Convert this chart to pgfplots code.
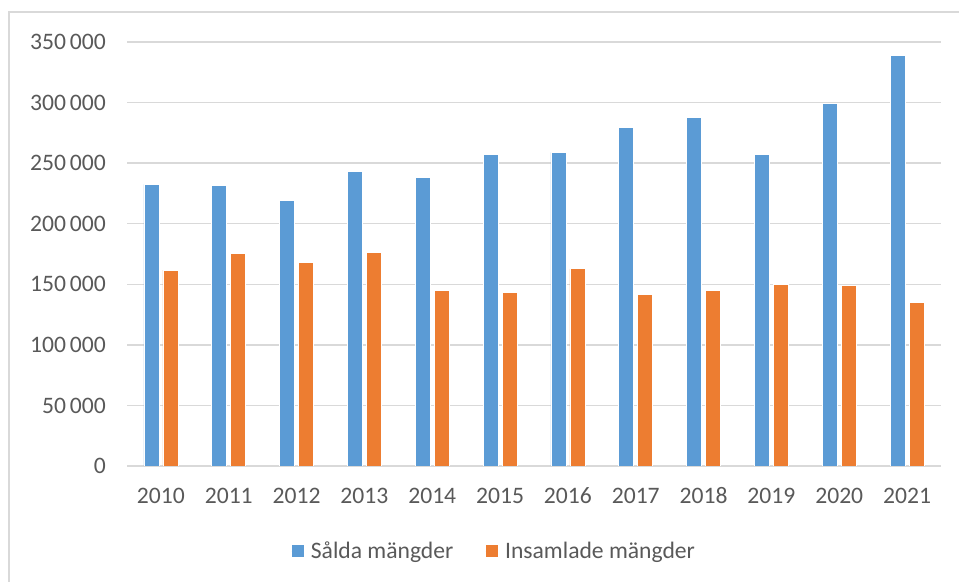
\documentclass[border=0pt]{standalone}
\usepackage{fontspec}
\setmainfont{Carlito}
\usepackage{pgfplots}
\pgfplotsset{compat=1.18}
\definecolor{salda}{HTML}{5B9BD5}
\definecolor{insaml}{HTML}{ED7D31}
\definecolor{gridgray}{HTML}{D9D9D9}
\definecolor{labelgray}{HTML}{595959}
\newcommand{\chartfont}{\fontsize{23.7}{28}\selectfont}

\begin{document}
\begin{tikzpicture}[x=1bp,y=1bp]
  \useasboundingbox (0,0) rectangle (959,582);
  % chart frame (cut off at right and bottom)
  \draw[gridgray, line width=1.5bp] (9,-5) -- (9,570) -- (970,570);
  \begin{axis}[
      at={(127bp,116bp)}, anchor=south west,
      scale only axis, width=814bp, height=424bp,
      ybar=4bp, bar width=15bp,
      xmin=-0.5, xmax=11.5, ymin=0, ymax=350000,
      ytick distance=50000,
      xtick=data,
      xticklabels={2010,2011,2012,2013,2014,2015,2016,2017,2018,2019,2020,2021},
      scaled y ticks=false,
      /pgf/number format/.cd, fixed, 1000 sep={\,}, assume math mode=true,
      /pgfplots/.cd,
      axis x line*=bottom, axis y line*=left,
      y axis line style={draw=none},
      x axis line style={draw=gridgray, line width=1.5bp, -},
      major tick length=0pt,
      ymajorgrids, grid style={gridgray, line width=1.5bp},
      tick label style={font=\chartfont, text=labelgray, inner sep=0pt},
      xticklabel style={text height=15bp, text depth=0pt},
      yticklabel shift=21bp, xticklabel shift=22bp,
      legend columns=2,
      legend style={at={(0.4509,-0.2005)}, anchor=center, draw=none, fill=none,
        font=\chartfont, text=labelgray},
      legend image code/.code={%
        \path (0bp,0bp) -- (17bp,0bp);
        \fill[#1, draw=none] (0bp,-6bp) rectangle (12bp,6bp);},
    ]
    \addplot[fill=salda, draw=white, line width=0.75bp] coordinates {
      (0,232400)(1,231600)(2,218900)(3,243100)(4,238200)(5,256900)
      (6,258800)(7,279200)(8,287700)(9,257200)(10,299500)(11,338600)};
    \addlegendentry{Sålda mängder\rule{30bp}{0pt}}
    \addplot[fill=insaml, draw=white, line width=0.75bp] coordinates {
      (0,161700)(1,175500)(2,168100)(3,176600)(4,144900)(5,143600)
      (6,162800)(7,141600)(8,144900)(9,150200)(10,149100)(11,135300)};
    \addlegendentry{Insamlade mängder}
  \end{axis}
\end{tikzpicture}
\end{document}
